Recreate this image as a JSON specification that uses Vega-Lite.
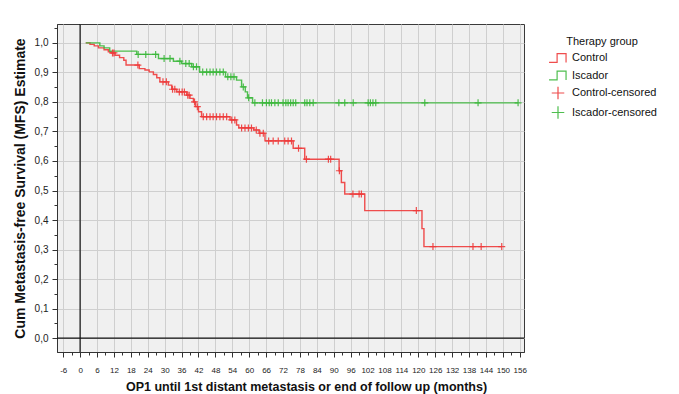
{
  "$schema": "https://vega.github.io/schema/vega-lite/v6.json",
  "width": 467,
  "height": 328,
  "autosize": {"type": "none"},
  "padding": {"left": 57, "top": 24, "right": 155, "bottom": 42},
  "background": "white",
  "config": {
    "font": "Liberation Sans",
    "view": {"stroke": "#3a3a3a", "fill": "#f0f0f0", "strokeWidth": 1},
    "axis": {
      "gridColor": "#cfcfcf",
      "gridWidth": 1,
      "domainColor": "#333333",
      "tickColor": "#333333",
      "labelColor": "#222222",
      "titleColor": "#111111",
      "titleFontWeight": "bold",
      "labelOverlap": false
    },
    "legend": {
      "titleFontWeight": "normal",
      "titleFontSize": 11,
      "titleColor": "#111111",
      "labelFontSize": 11,
      "labelColor": "#111111"
    }
  },
  "resolve": {"axis": {"x": "independent", "y": "independent"}},
  "datasets": {
    "curves": [
      {"t": 2, "s": 1.0, "key": "Control"},
      {"t": 3.5, "s": 0.995, "key": "Control"},
      {"t": 5, "s": 0.99, "key": "Control"},
      {"t": 6.5, "s": 0.983, "key": "Control"},
      {"t": 8.5, "s": 0.977, "key": "Control"},
      {"t": 10.0, "s": 0.97, "key": "Control"},
      {"t": 11.0, "s": 0.966, "key": "Control"},
      {"t": 12.4, "s": 0.958, "key": "Control"},
      {"t": 14.0, "s": 0.95, "key": "Control"},
      {"t": 15.5, "s": 0.941, "key": "Control"},
      {"t": 16.3, "s": 0.925, "key": "Control"},
      {"t": 21.0, "s": 0.913, "key": "Control"},
      {"t": 23.0, "s": 0.908, "key": "Control"},
      {"t": 24.5, "s": 0.902, "key": "Control"},
      {"t": 26.0, "s": 0.893, "key": "Control"},
      {"t": 27.2, "s": 0.882, "key": "Control"},
      {"t": 28.3, "s": 0.868, "key": "Control"},
      {"t": 31.3, "s": 0.857, "key": "Control"},
      {"t": 32.5, "s": 0.843, "key": "Control"},
      {"t": 34.3, "s": 0.834, "key": "Control"},
      {"t": 37.8, "s": 0.823, "key": "Control"},
      {"t": 39.0, "s": 0.812, "key": "Control"},
      {"t": 40.2, "s": 0.8, "key": "Control"},
      {"t": 41.0, "s": 0.784, "key": "Control"},
      {"t": 42.0, "s": 0.767, "key": "Control"},
      {"t": 43.1, "s": 0.75, "key": "Control"},
      {"t": 53.2, "s": 0.739, "key": "Control"},
      {"t": 55.5, "s": 0.722, "key": "Control"},
      {"t": 56.3, "s": 0.712, "key": "Control"},
      {"t": 61.6, "s": 0.705, "key": "Control"},
      {"t": 63.5, "s": 0.694, "key": "Control"},
      {"t": 65.6, "s": 0.668, "key": "Control"},
      {"t": 75.6, "s": 0.643, "key": "Control"},
      {"t": 79.7, "s": 0.606, "key": "Control"},
      {"t": 91.9, "s": 0.567, "key": "Control"},
      {"t": 92.7, "s": 0.527, "key": "Control"},
      {"t": 93.9, "s": 0.488, "key": "Control"},
      {"t": 101.0, "s": 0.432, "key": "Control"},
      {"t": 121.3, "s": 0.371, "key": "Control"},
      {"t": 122.0, "s": 0.31, "key": "Control"},
      {"t": 149.6, "s": 0.31, "key": "Control"},
      {"t": 2, "s": 1.0, "key": "Iscador"},
      {"t": 7.0, "s": 0.99, "key": "Iscador"},
      {"t": 8.5, "s": 0.983, "key": "Iscador"},
      {"t": 10.5, "s": 0.972, "key": "Iscador"},
      {"t": 20.1, "s": 0.961, "key": "Iscador"},
      {"t": 27.8, "s": 0.947, "key": "Iscador"},
      {"t": 33.1, "s": 0.938, "key": "Iscador"},
      {"t": 36.0, "s": 0.93, "key": "Iscador"},
      {"t": 39.6, "s": 0.919, "key": "Iscador"},
      {"t": 42.4, "s": 0.901, "key": "Iscador"},
      {"t": 51.6, "s": 0.885, "key": "Iscador"},
      {"t": 55.5, "s": 0.874, "key": "Iscador"},
      {"t": 57.3, "s": 0.851, "key": "Iscador"},
      {"t": 58.6, "s": 0.834, "key": "Iscador"},
      {"t": 59.4, "s": 0.814, "key": "Iscador"},
      {"t": 61.2, "s": 0.797, "key": "Iscador"},
      {"t": 155.4, "s": 0.797, "key": "Iscador"}
    ],
    "censored": [
      {"t": 11.5, "s": 0.966, "key": "Control-censored"},
      {"t": 12.0, "s": 0.966, "key": "Control-censored"},
      {"t": 20.5, "s": 0.925, "key": "Control-censored"},
      {"t": 29.4, "s": 0.868, "key": "Control-censored"},
      {"t": 30.6, "s": 0.868, "key": "Control-censored"},
      {"t": 32.8, "s": 0.843, "key": "Control-censored"},
      {"t": 33.6, "s": 0.843, "key": "Control-censored"},
      {"t": 35.2, "s": 0.834, "key": "Control-censored"},
      {"t": 36.2, "s": 0.834, "key": "Control-censored"},
      {"t": 37.0, "s": 0.834, "key": "Control-censored"},
      {"t": 38.2, "s": 0.823, "key": "Control-censored"},
      {"t": 38.7, "s": 0.823, "key": "Control-censored"},
      {"t": 40.6, "s": 0.8, "key": "Control-censored"},
      {"t": 41.6, "s": 0.784, "key": "Control-censored"},
      {"t": 43.7, "s": 0.75, "key": "Control-censored"},
      {"t": 44.9, "s": 0.75, "key": "Control-censored"},
      {"t": 46.1, "s": 0.75, "key": "Control-censored"},
      {"t": 47.2, "s": 0.75, "key": "Control-censored"},
      {"t": 48.4, "s": 0.75, "key": "Control-censored"},
      {"t": 49.6, "s": 0.75, "key": "Control-censored"},
      {"t": 50.8, "s": 0.75, "key": "Control-censored"},
      {"t": 52.0, "s": 0.75, "key": "Control-censored"},
      {"t": 53.8, "s": 0.739, "key": "Control-censored"},
      {"t": 54.9, "s": 0.739, "key": "Control-censored"},
      {"t": 57.3, "s": 0.712, "key": "Control-censored"},
      {"t": 58.5, "s": 0.712, "key": "Control-censored"},
      {"t": 59.7, "s": 0.712, "key": "Control-censored"},
      {"t": 60.8, "s": 0.712, "key": "Control-censored"},
      {"t": 62.5, "s": 0.705, "key": "Control-censored"},
      {"t": 63.8, "s": 0.694, "key": "Control-censored"},
      {"t": 65.0, "s": 0.694, "key": "Control-censored"},
      {"t": 66.9, "s": 0.668, "key": "Control-censored"},
      {"t": 68.5, "s": 0.668, "key": "Control-censored"},
      {"t": 70.3, "s": 0.668, "key": "Control-censored"},
      {"t": 72.6, "s": 0.668, "key": "Control-censored"},
      {"t": 73.8, "s": 0.668, "key": "Control-censored"},
      {"t": 75.0, "s": 0.668, "key": "Control-censored"},
      {"t": 77.5, "s": 0.643, "key": "Control-censored"},
      {"t": 80.3, "s": 0.606, "key": "Control-censored"},
      {"t": 88.1, "s": 0.606, "key": "Control-censored"},
      {"t": 88.9, "s": 0.606, "key": "Control-censored"},
      {"t": 92.0, "s": 0.567, "key": "Control-censored"},
      {"t": 96.8, "s": 0.488, "key": "Control-censored"},
      {"t": 99.0, "s": 0.488, "key": "Control-censored"},
      {"t": 99.8, "s": 0.488, "key": "Control-censored"},
      {"t": 119.3, "s": 0.432, "key": "Control-censored"},
      {"t": 125.2, "s": 0.31, "key": "Control-censored"},
      {"t": 139.4, "s": 0.31, "key": "Control-censored"},
      {"t": 142.3, "s": 0.31, "key": "Control-censored"},
      {"t": 149.6, "s": 0.31, "key": "Control-censored"},
      {"t": 20.6, "s": 0.961, "key": "Iscador-censored"},
      {"t": 23.3, "s": 0.961, "key": "Iscador-censored"},
      {"t": 26.8, "s": 0.961, "key": "Iscador-censored"},
      {"t": 29.8, "s": 0.947, "key": "Iscador-censored"},
      {"t": 31.9, "s": 0.947, "key": "Iscador-censored"},
      {"t": 35.4, "s": 0.938, "key": "Iscador-censored"},
      {"t": 37.5, "s": 0.93, "key": "Iscador-censored"},
      {"t": 38.7, "s": 0.93, "key": "Iscador-censored"},
      {"t": 40.2, "s": 0.919, "key": "Iscador-censored"},
      {"t": 41.3, "s": 0.919, "key": "Iscador-censored"},
      {"t": 43.5, "s": 0.901, "key": "Iscador-censored"},
      {"t": 44.9, "s": 0.901, "key": "Iscador-censored"},
      {"t": 46.1, "s": 0.901, "key": "Iscador-censored"},
      {"t": 47.2, "s": 0.901, "key": "Iscador-censored"},
      {"t": 48.4, "s": 0.901, "key": "Iscador-censored"},
      {"t": 49.6, "s": 0.901, "key": "Iscador-censored"},
      {"t": 50.8, "s": 0.901, "key": "Iscador-censored"},
      {"t": 52.4, "s": 0.885, "key": "Iscador-censored"},
      {"t": 53.5, "s": 0.885, "key": "Iscador-censored"},
      {"t": 54.6, "s": 0.885, "key": "Iscador-censored"},
      {"t": 57.9, "s": 0.851, "key": "Iscador-censored"},
      {"t": 59.8, "s": 0.814, "key": "Iscador-censored"},
      {"t": 62.0, "s": 0.797, "key": "Iscador-censored"},
      {"t": 64.7, "s": 0.797, "key": "Iscador-censored"},
      {"t": 66.1, "s": 0.797, "key": "Iscador-censored"},
      {"t": 67.1, "s": 0.797, "key": "Iscador-censored"},
      {"t": 67.9, "s": 0.797, "key": "Iscador-censored"},
      {"t": 69.1, "s": 0.797, "key": "Iscador-censored"},
      {"t": 70.3, "s": 0.797, "key": "Iscador-censored"},
      {"t": 72.0, "s": 0.797, "key": "Iscador-censored"},
      {"t": 73.0, "s": 0.797, "key": "Iscador-censored"},
      {"t": 73.8, "s": 0.797, "key": "Iscador-censored"},
      {"t": 74.7, "s": 0.797, "key": "Iscador-censored"},
      {"t": 75.6, "s": 0.797, "key": "Iscador-censored"},
      {"t": 76.5, "s": 0.797, "key": "Iscador-censored"},
      {"t": 79.7, "s": 0.797, "key": "Iscador-censored"},
      {"t": 80.5, "s": 0.797, "key": "Iscador-censored"},
      {"t": 81.5, "s": 0.797, "key": "Iscador-censored"},
      {"t": 82.7, "s": 0.797, "key": "Iscador-censored"},
      {"t": 91.8, "s": 0.797, "key": "Iscador-censored"},
      {"t": 93.9, "s": 0.797, "key": "Iscador-censored"},
      {"t": 96.9, "s": 0.797, "key": "Iscador-censored"},
      {"t": 102.2, "s": 0.797, "key": "Iscador-censored"},
      {"t": 103.0, "s": 0.797, "key": "Iscador-censored"},
      {"t": 103.9, "s": 0.797, "key": "Iscador-censored"},
      {"t": 104.9, "s": 0.797, "key": "Iscador-censored"},
      {"t": 122.3, "s": 0.797, "key": "Iscador-censored"},
      {"t": 141.2, "s": 0.797, "key": "Iscador-censored"},
      {"t": 155.4, "s": 0.797, "key": "Iscador-censored"}
    ]
  },
  "layer": [
    {
      "data": {"name": "curves"},
      "mark": {"type": "line", "interpolate": "step-after", "strokeWidth": 1.4, "opacity": 0.9},
      "encoding": {
        "x": {
          "field": "t", "type": "quantitative",
          "title": "OP1 until 1st distant metastasis or end of follow up (months)",
          "scale": {"domain": [-8.2, 157.5], "nice": false, "zero": false},
          "axis": {
            "orient": "bottom",
            "values": [-6, 0, 6, 12, 18, 24, 30, 36, 42, 48, 54, 60, 66, 72, 78, 84, 90, 96, 102, 108, 114, 120, 126, 132, 138, 144, 150, 156],
            "labelExpr": "datum.value < 0 ? '-' + abs(datum.value) : '' + datum.value",
            "labelFontSize": 8, "tickSize": 5, "labelPadding": 9,
            "titleFontSize": 12.5, "titlePadding": 6, "titleX": 249, "grid": true, "labelFlush": false
          }
        },
        "y": {
          "field": "s", "type": "quantitative",
          "title": "Cum Metastasis-free Survival (MFS) Estimate",
          "scale": {"domain": [-0.047, 1.064], "nice": false, "zero": false},
          "axis": {
            "orient": "left",
            "values": [0, 0.1, 0.2, 0.3, 0.4, 0.5, 0.6, 0.7, 0.8, 0.9, 1.0],
            "labelExpr": "replace(format(datum.value, '.1f'), '.', ',')",
            "labelFontSize": 10, "tickSize": 5, "labelPadding": 4,
            "titleFontSize": 14, "titlePadding": 7, "grid": true, "labelFlush": false
          }
        },
        "color": {
          "field": "key", "type": "nominal", "title": "Therapy group",
          "scale": {
            "domain": ["Control", "Iscador", "Control-censored", "Iscador-censored"],
            "range": ["#ee3a3a", "#3cb83c", "#ee3a3a", "#3cb83c"]
          },
          "legend": {
            "orient": "none", "legendX": 491, "legendY": 12, "titleAnchor": "middle",
            "titlePadding": 1,
            "symbolSize": 320, "symbolStrokeWidth": 1.2, "rowPadding": 0.5
          }
        }
      }
    },
    {
      "data": {"name": "censored"},
      "mark": {"type": "point", "filled": false, "strokeWidth": 1.2, "size": 100, "opacity": 0.9},
      "encoding": {
        "x": {"field": "t", "type": "quantitative", "axis": null},
        "y": {"field": "s", "type": "quantitative", "axis": null},
        "color": {"field": "key", "type": "nominal", "title": "Therapy group"},
        "shape": {
          "field": "key", "type": "nominal", "title": "Therapy group",
          "scale": {
            "domain": ["Control", "Iscador", "Control-censored", "Iscador-censored"],
            "range": ["M-1,0.5L-0.1,0.5L-0.1,-0.5L0.9,-0.5L0.9,0.5", "M-1,0.5L-0.1,0.5L-0.1,-0.5L0.9,-0.5L0.9,0.5", "M0,-0.7L0,0.7M-0.7,0L0.7,0", "M0,-0.7L0,0.7M-0.7,0L0.7,0"]
          }
        }
      }
    },
    {
      "data": {"values": [{}]},
      "mark": {"type": "rule", "color": "#111111", "strokeWidth": 1.2},
      "encoding": {
        "x": {
          "datum": 0, "type": "quantitative",
          "axis": {
            "orient": "bottom", "title": null, "labels": false, "grid": false, "domain": false,
            "tickSize": 3,
            "values": [-3, 3, 9, 15, 21, 27, 33, 39, 45, 51, 57, 63, 69, 75, 81, 87, 93, 99, 105, 111, 117, 123, 129, 135, 141, 147, 153]
          }
        }
      }
    },
    {
      "data": {"values": [{}]},
      "mark": {"type": "rule", "color": "#111111", "strokeWidth": 1.2},
      "encoding": {
        "y": {
          "datum": 0, "type": "quantitative",
          "axis": {
            "orient": "left", "title": null, "labels": false, "grid": false, "domain": false,
            "tickSize": 3,
            "values": [-0.05, 0.05, 0.15, 0.25, 0.35, 0.45, 0.55, 0.65, 0.75, 0.85, 0.95, 1.05]
          }
        }
      }
    }
  ]
}
